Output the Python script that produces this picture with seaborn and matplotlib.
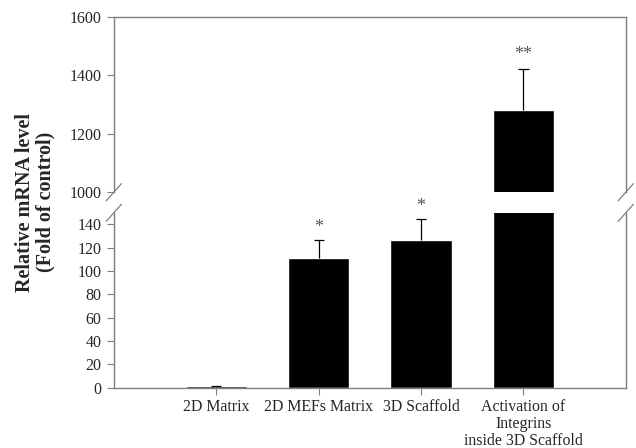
import numpy as np
import pandas as pd
import matplotlib
matplotlib.use("Agg")
import matplotlib.pyplot as plt
import seaborn as sns

groups = ["2D Matrix", "2D MEFs Matrix", "3D Scaffold",
          "Activation of\nIntegrins\ninside 3D Scaffold"]
means = [1.0, 111.5, 126.3, 1283.0]
errs = [0.6, 14.8, 18.0, 138.0]
stars = ["", "*", "*", "**"]

sns.set_style("white")
plt.rcParams['font.family'] = ['Liberation Serif', 'DejaVu Serif']

df = pd.DataFrame({"group": groups, "mean": means})
tops = np.array(means) + np.array(errs)
xs = np.arange(len(groups))

fig = plt.figure(figsize=(6.36, 4.48), dpi=100)
ax_hi = fig.add_axes([0.179, 0.571, 0.805, 0.391])
ax_lo = fig.add_axes([0.179, 0.135, 0.805, 0.390])

spine_col = "#7f7f7f"
for ax in (ax_hi, ax_lo):
    sns.barplot(data=df, x="group", y="mean", order=groups, color="black",
                width=0.6, saturation=1, ax=ax, errorbar=None)
    # upper-only error bars
    ax.vlines(xs, means, tops, color="black", lw=0.9)
    ax.hlines(tops, xs - 0.05, xs + 0.05, color="black", lw=0.9)
    ax.set_xlim(-1, 4)
    ax.set_xlabel("")
    ax.set_ylabel("")
    for s in ax.spines.values():
        s.set_color(spine_col)
        s.set_linewidth(1.0)
    ax.tick_params(axis="y", direction="out", length=5, color=spine_col,
                   labelsize=11.5, left=True, pad=4)

ax_hi.set_ylim(1000, 1600)
ax_hi.set_yticks([1000, 1200, 1400, 1600])
ax_hi.spines["bottom"].set_visible(False)
ax_hi.tick_params(axis="x", bottom=False, labelbottom=False)

ax_lo.set_ylim(0, 150)
ax_lo.set_yticks(np.arange(0, 141, 20))
ax_lo.spines["top"].set_visible(False)
ax_lo.tick_params(axis="x", direction="out", length=5, color=spine_col,
                  labelsize=11.4, bottom=True, pad=3)
ax_lo.set_xticks(xs)
ax_lo.set_xticklabels(groups, linespacing=1.1)

# significance markers
for i, (m, t, s) in enumerate(zip(means, tops, stars)):
    if not s:
        continue
    ax = ax_hi if m > 1000 else ax_lo
    ax.text(i, t + (20 if m > 1000 else 4), s, ha="center", va="bottom",
            fontsize=13, color="#555555")

# break marks
d = 0.012
kw = dict(transform=fig.transFigure, color=spine_col, lw=0.9, clip_on=False)
for xf in (0.179, 0.984):
    for yf in (0.571, 0.525):
        fig.add_artist(plt.Line2D([xf - d, xf + d], [yf - 1.6 * d, yf + 1.6 * d], **kw))

fig.text(0.055, 0.549, "Relative mRNA level\n(Fold of control)", rotation=90,
         ha="center", va="center", fontsize=14.5, fontweight="bold", linespacing=1.05)

fig.savefig("out.png", dpi=100)
